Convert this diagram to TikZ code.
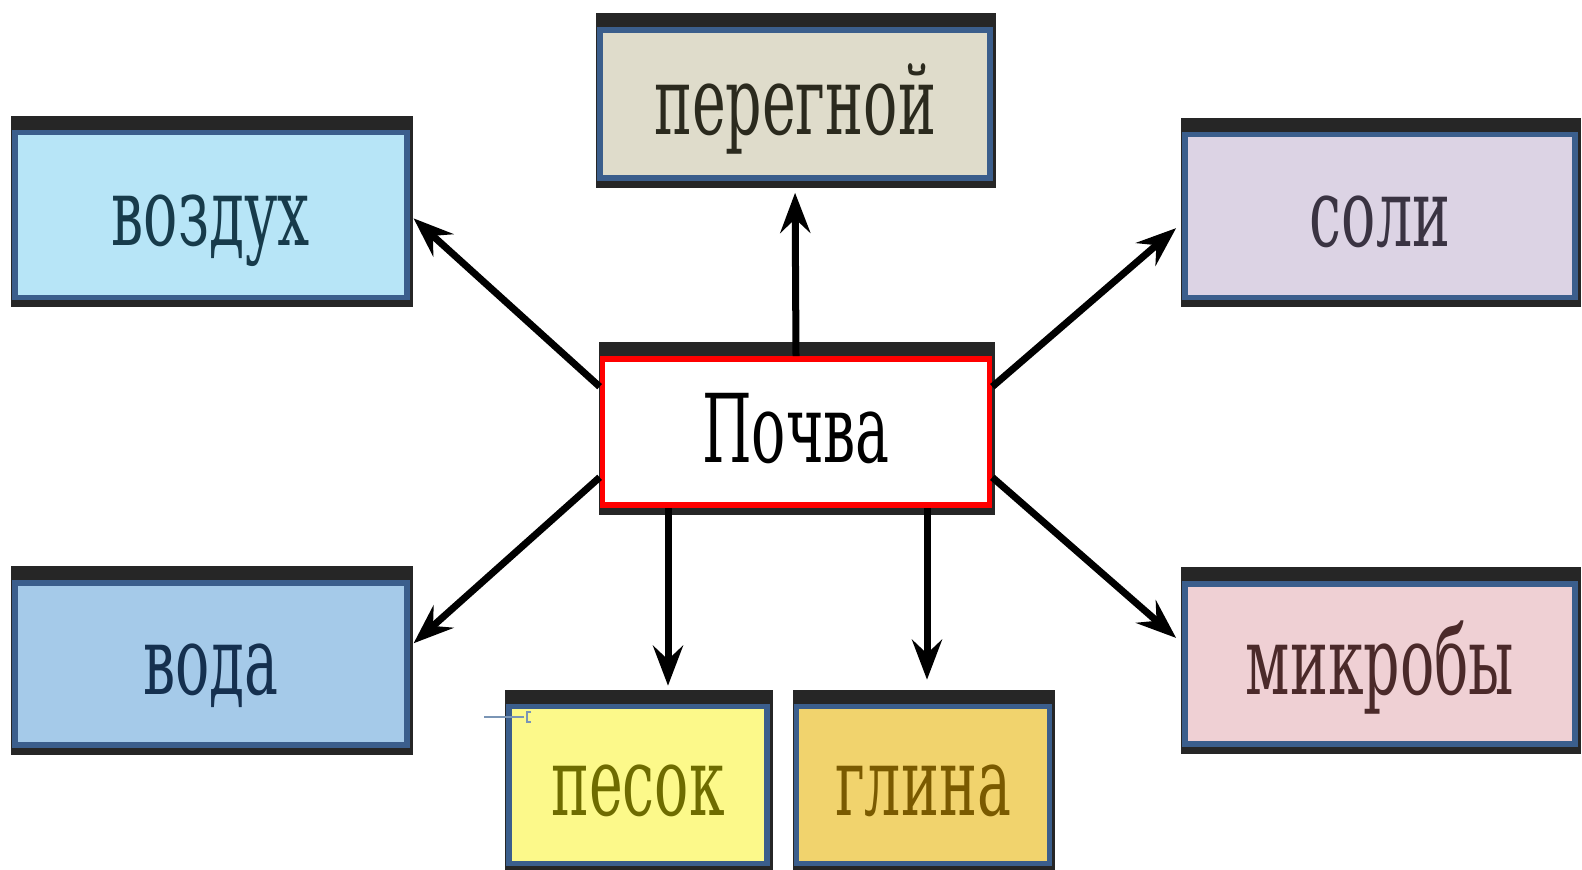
\documentclass[tikz,border=0pt]{standalone}
\usepackage{fontspec}
\newfontfamily\boxfont[FakeStretch=0.6]{DejaVu Serif}
\usetikzlibrary{arrows.meta,calc,backgrounds}
\definecolor{BoxBlue}{HTML}{3B5E8C}
\definecolor{Humus}{HTML}{DFDCCB}
\definecolor{HumusText}{HTML}{2B2A1E}
\definecolor{Air}{HTML}{B7E5F7}
\definecolor{AirText}{HTML}{173B4B}
\definecolor{Salt}{HTML}{DCD3E4}
\definecolor{SaltText}{HTML}{3A3342}
\definecolor{Water}{HTML}{A5CAE9}
\definecolor{WaterText}{HTML}{15304F}
\definecolor{Microbe}{HTML}{EFD0D4}
\definecolor{MicrobeText}{HTML}{4B2A2A}
\definecolor{Sand}{HTML}{FCF98A}
\definecolor{SandText}{HTML}{6E6C00}
\definecolor{Clay}{HTML}{F1D36D}
\definecolor{ClayText}{HTML}{7A5A00}
\definecolor{Stray}{HTML}{7A95B5}
\tikzset{
	box/.style={rectangle, draw=BoxBlue, line width=0.55mm, inner sep=0pt,
		minimum width=3.92cm, minimum height=1.62cm, text height=6mm, text depth=0mm,
		font=\boxfont\fontsize{27}{27}\selectfont},
	arr/.style={line width=0.7mm, -{Stealth[length=4mm,width=3mm,inset=1.4mm]}},
}

\begin{document}
\begin{tikzpicture}[x=0.01cm,y=-0.01cm]
	\useasboundingbox (0,0) rectangle (1582,869);
	\node (pochva) [box,draw=red,fill=white,minimum width=3.87cm,minimum height=1.46cm] at (796,432) {Почва};
	\node (peregnoy) [box,fill=Humus,text=HumusText,minimum width=3.9cm,minimum height=1.48cm] at (795,104) {перегной};
	\node (vozduh) [box,fill=Air,text=AirText,minimum height=1.65cm] at (211,215) {воздух};
	\node (soli) [box,fill=Salt,text=SaltText,minimum width=3.9cm,minimum height=1.63cm] at (1380,216) {соли};
	\node (voda) [box,fill=Water,text=WaterText] at (211,664) {вода};
	\node (mikroby) [box,fill=Microbe,text=MicrobeText,minimum width=3.9cm,minimum height=1.6cm] at (1380,664) {микробы};
	\node (pesok) [box,fill=Sand,text=SandText,minimum width=2.58cm,minimum height=1.57cm] at (638,785) {песок};
	\node (glina) [box,fill=Clay,text=ClayText,minimum width=2.53cm,minimum height=1.57cm] at (923,785) {глина};
	% dark bars behind the boxes
	\begin{scope}[on background layer]
		\foreach \n in {pochva,peregnoy,vozduh,soli,voda,mikroby,pesok,glina}
			\fill [black!85] ($(\n.north west)+(-1,-14)$) rectangle ($(\n.south east)+(3,7)$);
	\end{scope}
	\draw [arr,shorten >=0.5mm] (pochva.167) -- (vozduh.east);
	\draw [arr,shorten >=0.5mm] (pochva.193) -- (voda.5);
	\draw [arr,shorten >=1.2mm] (pochva.north) -- (peregnoy.south);
	\draw [arr,shorten >=0.8mm] (pochva.13) -- (soli.182);
	\draw [arr,shorten >=0.8mm] (pochva.347) -- (mikroby.174);
	\coordinate (ps) at ($(pochva.south)+(-128,0)$);
	\coordinate (gl) at ($(pochva.south)+(131,0)$);
	\draw [arr,shorten >=1.8mm] (ps) -- (ps |- pesok.north);
	\draw [arr,shorten >=2.4mm] (gl) -- (gl |- glina.north);
	% stray mark
	\draw [Stray,line width=0.4pt] (484,717) -- (524,717);
	\draw [Stray,line width=0.6pt] (531,712) -- (527,712) -- (527,722) -- (531,722);
\end{tikzpicture}
\end{document}
